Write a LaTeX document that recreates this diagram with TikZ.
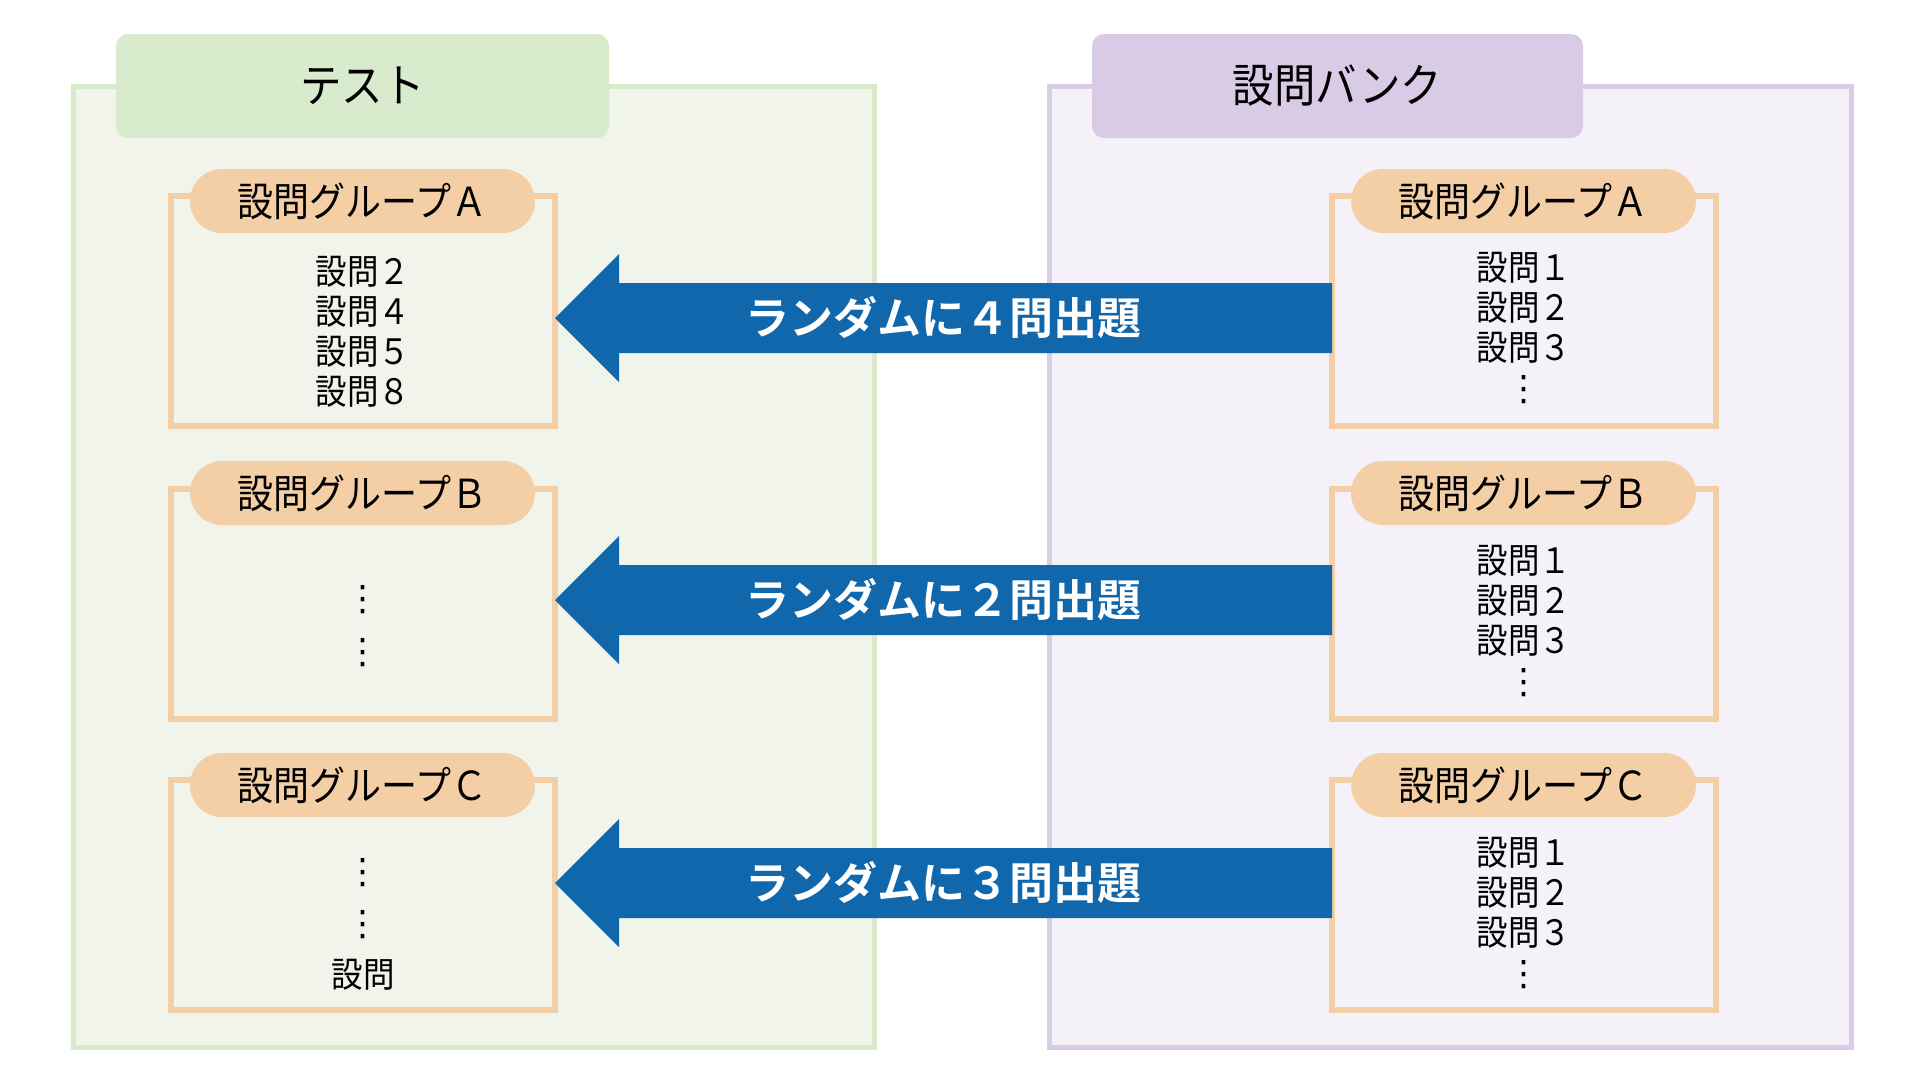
\documentclass[tikz,border=0pt]{standalone}
\usepackage{fontspec}
\setmainfont{Noto Sans CJK JP}
\newfontfamily\jpfont{Noto Sans CJK JP}[FakeStretch=0.9]
\newfontfamily\jpbold{Noto Sans CJK JP Bold}
\newfontfamily\symfont{DejaVu Sans}
\newcommand{\vdotsym}{{\symfont ⋮}}
\usetikzlibrary{calc}

\definecolor{testfill}{HTML}{F0F4EB}
\definecolor{testline}{HTML}{D9EACB}
\definecolor{testhead}{HTML}{D9EBCD}
\definecolor{bankfill}{HTML}{F4F2F8}
\definecolor{bankline}{HTML}{D9CCE6}
\definecolor{bankhead}{HTML}{D9CBE5}
\definecolor{grouporange}{HTML}{F4CFA5}
\definecolor{flowblue}{HTML}{1067AC}

\begin{document}
\begin{tikzpicture}[x=1pt,y=-1pt,
  panel/.style={line width=5pt,inner sep=0pt,outer sep=0pt,minimum height=961pt},
  header/.style={rounded corners=12pt,inner sep=0pt,minimum height=104pt,font=\jpfont\fontsize{46}{50}\selectfont},
  groupbox/.style={draw=grouporange,line width=6pt,minimum width=384pt,minimum height=230pt,inner sep=0pt,outer sep=0pt},
  pill/.style={fill=grouporange,rounded corners=32pt,minimum width=345pt,minimum height=64pt,inner sep=0pt,font=\jpfont\fontsize{40}{44}\selectfont},
  item/.style={align=center,inner sep=0pt,font=\jpfont\fontsize{35}{40}\selectfont},
  flow/.style={fill=flowblue},
  flowtext/.style={text=white,inner sep=0pt,font=\jpbold\fontsize{44}{48}\selectfont}]
  \useasboundingbox[fill=white] (0,0) rectangle (1920,1080);

  % panels
  \node[panel,draw=testline,fill=testfill,minimum width=801pt] (test) at (473.5,566.5) {};
  \node[panel,draw=bankline,fill=bankfill,minimum width=802pt] (bank) at (1450,566.5) {};
  \node[header,fill=testhead,minimum width=493pt] (testhd) at (362.5,86) {テスト};
  \node[header,fill=bankhead,minimum width=491pt] (bankhd) at (1337.5,86) {設問バンク};

  % groups in the test
  \node[groupbox] (lA) at (363,311) {};
  \node[groupbox] (lB) at (363,604) {};
  \node[groupbox] (lC) at (363,895) {};
  \node[pill] (lApill) at (362.5,201) {設問グループＡ};
  \node[pill] (lBpill) at (362.5,493) {設問グループＢ};
  \node[pill] (lCpill) at (362.5,785) {設問グループＣ};
  \node[item] (lAitems) at (363,332) {設問２\\設問４\\設問５\\設問８};
  \node[item] (lBitems) at (363,626) {\vdotsym\\[13pt]\vdotsym};
  \node[item] (lCitems) at (363,924) {\vdotsym\\[12pt]\vdotsym\\[12pt]設問};

  % groups in the bank
  \node[groupbox] (rA) at (1524,311) {};
  \node[groupbox] (rB) at (1524,604) {};
  \node[groupbox] (rC) at (1524,895) {};
  \node[pill] (rApill) at (1523.5,201) {設問グループＡ};
  \node[pill] (rBpill) at (1523.5,493) {設問グループＢ};
  \node[pill] (rCpill) at (1523.5,785) {設問グループＣ};
  \node[item] (rAitems) at (1524,328) {設問１\\設問２\\設問３\\\vdotsym};
  \node[item] (rBitems) at (1524,621) {設問１\\設問２\\設問３\\\vdotsym};
  \node[item] (rCitems) at (1524,913) {設問１\\設問２\\設問３\\\vdotsym};

  % block arrows
  \coordinate (a1) at (943,318);
  \coordinate (a2) at (943,600);
  \coordinate (a3) at (943,883);
  \fill[flow] (lA.east |- a1) -- ++(64,-64) -- ++(0,29) -- ($(rA.west |- a1)+(0,-35)$)
    -- ++(0,70) -- ($(lA.east |- a1)+(64,35)$) -- ++(0,29) -- cycle;
  \fill[flow] (lB.east |- a2) -- ++(64,-64) -- ++(0,29) -- ($(rB.west |- a2)+(0,-35)$)
    -- ++(0,70) -- ($(lB.east |- a2)+(64,35)$) -- ++(0,29) -- cycle;
  \fill[flow] (lC.east |- a3) -- ++(64,-64) -- ++(0,29) -- ($(rC.west |- a3)+(0,-35)$)
    -- ++(0,70) -- ($(lC.east |- a3)+(64,35)$) -- ++(0,29) -- cycle;
  \node[flowtext] (t1) at (a1) {ランダムに４問出題};
  \node[flowtext] (t2) at (a2) {ランダムに２問出題};
  \node[flowtext] (t3) at (a3) {ランダムに３問出題};
\end{tikzpicture}
\end{document}
